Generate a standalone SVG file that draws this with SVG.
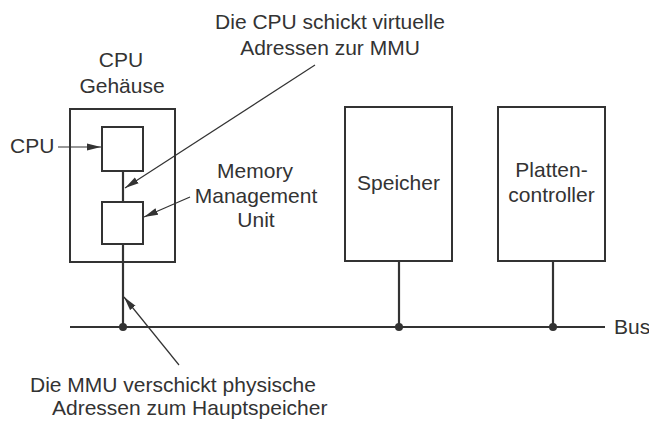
<svg xmlns="http://www.w3.org/2000/svg" width="649" height="421" viewBox="0 0 649 421">
<defs>
<style>
text{font-family:"Liberation Sans",Arial,sans-serif;font-size:21px;fill:#333}
.box{fill:none;stroke:#333;stroke-width:2}
.wire{fill:none;stroke:#333;stroke-width:2.2}
.ptr{fill:none;stroke:#333;stroke-width:1.2}
.dot{fill:#333}
</style>
<marker id="ah" viewBox="0 0 14 8" refX="14" refY="4" markerWidth="14" markerHeight="8" markerUnits="userSpaceOnUse" orient="auto">
<path d="M0,0.5 L14,4 L0,7.5 Z" fill="#333"/>
</marker>
</defs>
<rect width="649" height="421" fill="#fff"/>
<g id="package">
<rect class="box" x="70" y="109" width="105" height="153"/>
<text x="121" y="67" text-anchor="middle">CPU</text>
<text x="122" y="93" text-anchor="middle">Gehäuse</text>
</g>
<g id="cpu">
<rect class="box" x="102" y="127" width="41" height="44"/>
</g>
<g id="mmu">
<rect class="box" x="102" y="202" width="41" height="42"/>
</g>
<g id="speicher">
<rect class="box" x="345" y="107" width="107" height="154"/>
<text x="398.5" y="190" text-anchor="middle">Speicher</text>
</g>
<g id="plattencontroller">
<rect class="box" x="498" y="107" width="107" height="154"/>
<text x="551.5" y="177" text-anchor="middle">Platten-</text>
<text x="551.5" y="202" text-anchor="middle">controller</text>
</g>
<g id="bus">
<line class="wire" x1="70" y1="327" x2="605" y2="327"/>
<text x="614" y="334">Bus</text>
</g>
<g id="connectors">
<line class="wire" x1="123" y1="171" x2="123" y2="202"/>
<line class="wire" x1="123" y1="244" x2="123" y2="327"/>
<line class="wire" x1="399" y1="261" x2="399" y2="327"/>
<line class="wire" x1="553" y1="261" x2="553" y2="327"/>
<circle class="dot" cx="123" cy="327" r="4"/>
<circle class="dot" cx="399" cy="327" r="4"/>
<circle class="dot" cx="553" cy="327" r="4"/>
<line class="ptr" x1="58" y1="147" x2="101" y2="147" marker-end="url(#ah)"/>
<line class="ptr" x1="315" y1="65" x2="125" y2="188" marker-end="url(#ah)"/>
<line class="ptr" x1="190" y1="197" x2="144" y2="217" marker-end="url(#ah)"/>
<line class="ptr" x1="179" y1="365" x2="124" y2="297" marker-end="url(#ah)"/>
</g>
<g id="labels">
<text x="10" y="153">CPU</text>
<text x="330" y="29" text-anchor="middle">Die CPU schickt virtuelle</text>
<text x="330" y="55" text-anchor="middle">Adressen zur MMU</text>
<text x="255" y="178" text-anchor="middle">Memory</text>
<text x="256" y="203" text-anchor="middle">Management</text>
<text x="256" y="227" text-anchor="middle">Unit</text>
<text x="30" y="392">Die MMU verschickt physische</text>
<text x="52" y="415">Adressen zum Hauptspeicher</text>
</g>
</svg>
